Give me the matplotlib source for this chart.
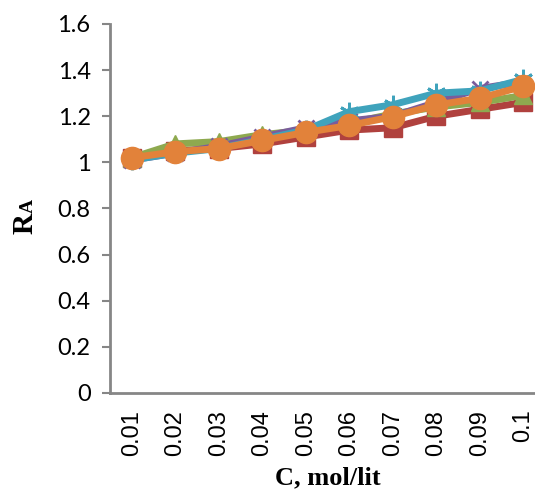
import matplotlib.pyplot as plt

conc = ['0.01', '0.02', '0.03', '0.04', '0.05', '0.06', '0.07', '0.08', '0.09', '0.1']

red = [1.02, 1.05, 1.06, 1.08, 1.11, 1.14, 1.15, 1.20, 1.23, 1.26]
green = [1.02, 1.08, 1.09, 1.12, 1.14, 1.17, 1.21, 1.24, 1.26, 1.29]
purple = [1.01, 1.04, 1.07, 1.11, 1.15, 1.18, 1.20, 1.26, 1.32, 1.35]
teal = [1.01, 1.04, 1.06, 1.10, 1.14, 1.22, 1.25, 1.30, 1.31, 1.36]
orange = [1.02, 1.046, 1.06, 1.095, 1.13, 1.16, 1.198, 1.249, 1.278, 1.33]

yticks = [0, 0.2, 0.4, 0.6, 0.8, 1, 1.2, 1.4, 1.6]
ylabels = ['0', '0.2', '0.4', '0.6', '0.8', '1', '1.2', '1.4', '1.6']

fig = plt.figure(figsize=(5.35, 5.01), dpi=100)
ax = fig.add_axes([0.2056, 0.2156, 0.8131, 0.7365])

x = range(len(conc))
lw = 5
ax.plot(x, red, color='#B0413E', lw=lw, marker='s', ms=13, zorder=2)
ax.plot(x, green, color='#8EA94F', lw=lw, marker='^', ms=13, zorder=3)
ax.plot(x, purple, color='#7A5C9C', lw=lw, marker='x', ms=12, mew=2, zorder=4)
ax.plot(x, teal, color='#3FA3BC', lw=lw, marker=(6, 2, 0), ms=14, mew=2, zorder=5)
ax.plot(x, orange, color='#E2823A', lw=lw, marker='o', ms=16, zorder=6)

ax.set_xlim(-0.5, 9.5)
ax.set_ylim(0, 1.6)
ax.set_yticks(yticks)
ax.set_yticklabels(ylabels, fontname='Lato', fontsize=17)
ax.set_xticks(list(x))
ax.set_xticklabels(conc, rotation=90, fontname='Liberation Sans', fontsize=17)
ax.tick_params(axis='y', length=6, width=1.5, color='#868686', pad=8)
ax.tick_params(axis='x', length=0, pad=12)

for s in ['top', 'right']:
    ax.spines[s].set_visible(False)
for s in ['left', 'bottom']:
    ax.spines[s].set_color('#868686')
    ax.spines[s].set_linewidth(2)

ax.set_xlabel('C, mol/lit', fontname='Liberation Serif', fontweight='bold', fontsize=19, labelpad=8)

# y label R with upright subscript A
fig.text(25 / 535, 1 - 223 / 501, 'R', rotation=90, ha='center', va='center',
         fontname='Liberation Serif', fontweight='bold', fontsize=21)
fig.text(28 / 535, 1 - 206 / 501, 'A', rotation=90, ha='center', va='center',
         fontname='Liberation Serif', fontweight='bold', fontsize=14)

fig.savefig('out.png', dpi=100)
